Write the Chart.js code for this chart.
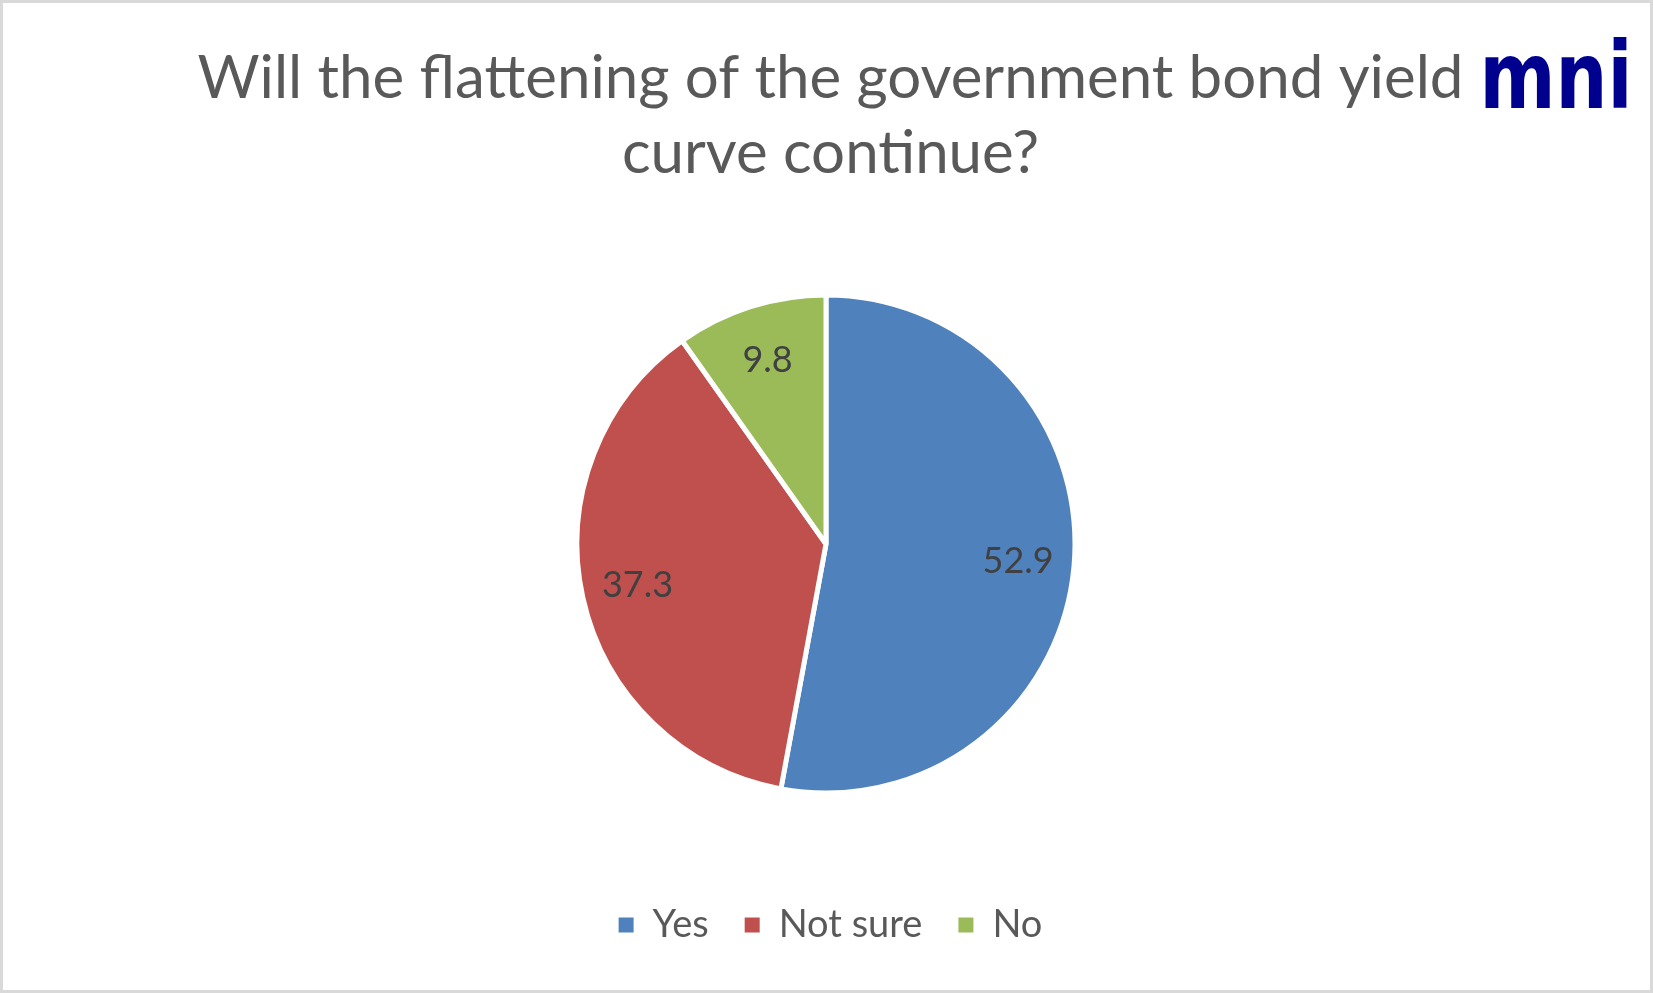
<!DOCTYPE html>
<html>
<head>
<meta charset="utf-8">
<script src="https://cdn.jsdelivr.net/npm/chart.js@4/dist/chart.umd.min.js"></script>
<style>
  html, body { margin: 0; padding: 0; background: #ffffff; }
  #wrap { width: 1653px; height: 993px; }
</style>
</head>
<body>
<div id="wrap"><canvas id="c" width="1653" height="993"></canvas></div>
<script>
// ---- data ----
const categories = ['Yes', 'Not sure', 'No'];
const values = [52.9, 37.3, 9.8];
const titleLines = ['Will the flattening of the government bond yield', 'curve continue?'];
const logoText = 'mni';

// ---- styles ----
const sliceColors = ['#4F81BD', '#C0504D', '#9BBB59'];
const textColor = '#595959';
const labelColor = '#404040';
const FONT = 'Lato, "Open Sans", "DejaVu Sans", sans-serif';

const frameAndLogo = {
  id: 'frameAndLogo',
  beforeDraw(chart) {
    const ctx = chart.ctx;
    ctx.save();
    ctx.fillStyle = '#ffffff';
    ctx.fillRect(0, 0, chart.width, chart.height);
    ctx.restore();
  },
  afterDraw(chart) {
    const ctx = chart.ctx;
    ctx.save();
    // outer frame
    ctx.strokeStyle = '#D9D9D9';
    ctx.lineWidth = 3;
    ctx.strokeRect(1.5, 1.5, chart.width - 3, chart.height - 3);
    // logo
    ctx.fillStyle = '#00008F';
    ctx.font = 'bold 93px "DejaVu Sans", sans-serif';
    ctx.textBaseline = 'alphabetic';
    ctx.textAlign = 'left';
    const m = ctx.measureText(logoText);
    const inkW = m.actualBoundingBoxRight + m.actualBoundingBoxLeft;
    const sx = 142 / inkW;
    ctx.translate(1485, 108);
    ctx.scale(sx, 1);
    ctx.fillText(logoText, m.actualBoundingBoxLeft, 0);
    ctx.restore();
  }
};

const sliceLabels = {
  id: 'sliceLabels',
  afterDatasetsDraw(chart) {
    const ctx = chart.ctx;
    const meta = chart.getDatasetMeta(0);
    const data = chart.data.datasets[0].data;
    ctx.save();
    ctx.font = '36px ' + FONT;
    ctx.fillStyle = labelColor;
    ctx.textAlign = 'center';
    ctx.textBaseline = 'middle';
    meta.data.forEach((arc, i) => {
      const p = arc.getProps(['x', 'y', 'startAngle', 'endAngle', 'outerRadius'], true);
      const mid = (p.startAngle + p.endAngle) / 2;
      const r = p.outerRadius * 0.775;
      ctx.fillText(data[i].toFixed(1), p.x + Math.cos(mid) * r, p.y + Math.sin(mid) * r);
    });
    ctx.restore();
  }
};

new Chart(document.getElementById('c'), {
  type: 'pie',
  data: {
    labels: categories,
    datasets: [{
      data: values,
      backgroundColor: sliceColors,
      borderColor: '#ffffff',
      borderWidth: 5,
      radius: 249
    }]
  },
  options: {
    responsive: false,
    devicePixelRatio: 1,
    animation: false,
    layout: { padding: { top: 0, left: 8, right: 0, bottom: 39 } },
    plugins: {
      tooltip: { enabled: false },
      title: {
        display: true,
        text: titleLines,
        color: textColor,
        font: { family: FONT, size: 60, weight: 'normal', lineHeight: 1.25 },
        padding: { top: 41, bottom: 27 }
      },
      subtitle: {
        display: true,
        text: '',
        position: 'right',
        font: { size: 5, lineHeight: 1 },
        padding: { top: 2, bottom: 2 }
      },
      legend: {
        position: 'bottom',
        labels: {
          color: textColor,
          font: { family: FONT, size: 38 },
          boxWidth: 15,
          boxHeight: 15,
          padding: 36,
          generateLabels(chart) {
            const items = Chart.overrides.pie.plugins.legend.labels.generateLabels(chart);
            return items.map(it => Object.assign(it, { lineWidth: 0, strokeStyle: 'rgba(0,0,0,0)' }));
          }
        }
      }
    }
  },
  plugins: [frameAndLogo, sliceLabels]
});
</script>
</body>
</html>
